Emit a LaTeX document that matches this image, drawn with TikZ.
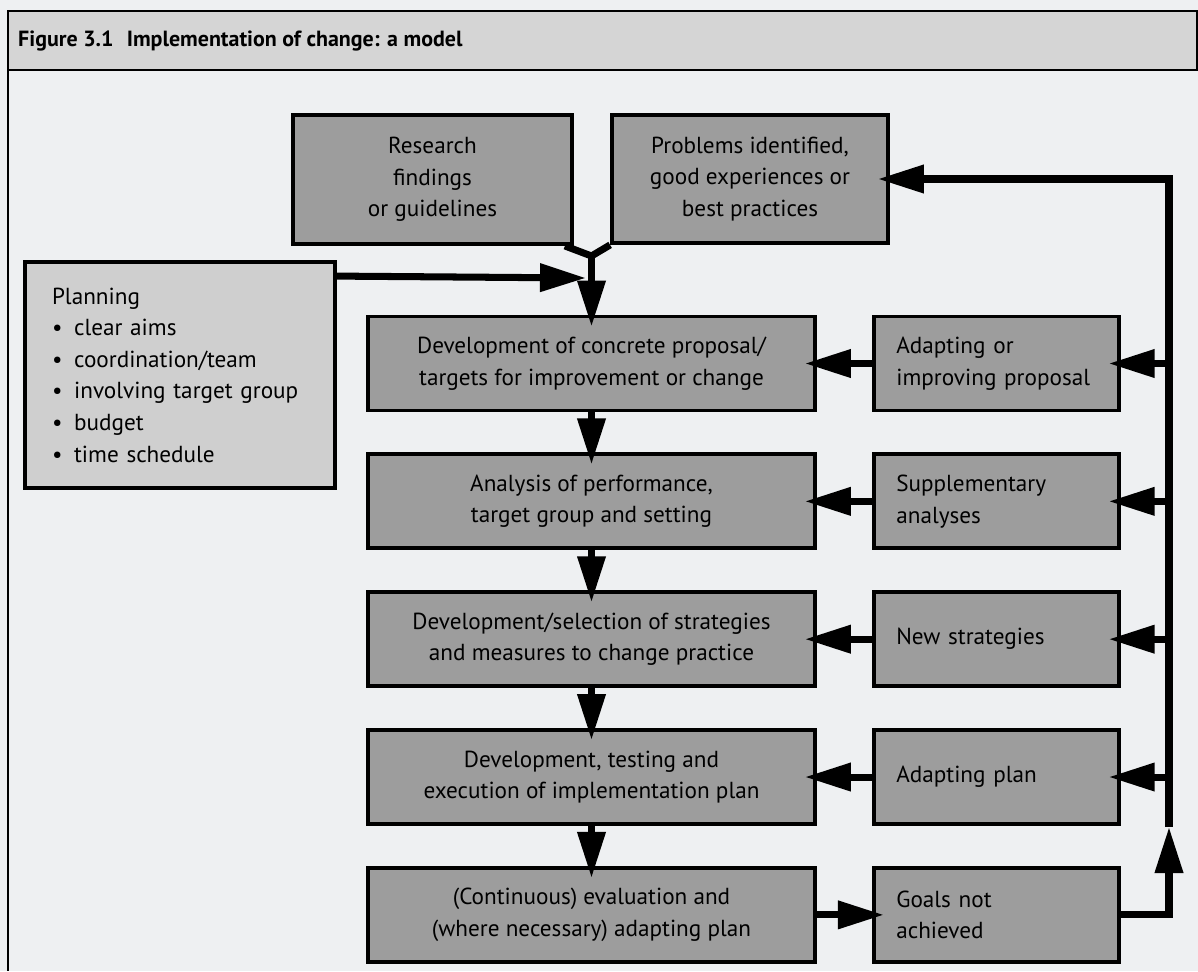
\documentclass[tikz,border=0pt]{standalone}
\usepackage{fontspec}
\setmainfont{PT Sans}
\usetikzlibrary{arrows.meta,positioning}
\definecolor{boxgray}{HTML}{9D9D9D}
\definecolor{plangray}{HTML}{CFCFCF}
\definecolor{titlegray}{HTML}{D5D5D5}
\definecolor{paper}{HTML}{EEF0F2}
\newcommand{\boxfont}{\fontsize{13.2}{18}\selectfont\hyphenpenalty=10000}
\newcommand{\titlefont}{\fontsize{12.5}{16}\selectfont\bfseries}
\tikzset{
  box/.style={draw=black,line width=2.2pt,fill=boxgray,align=center,font=\boxfont,minimum width=8.94cm,minimum height=1.88cm,inner sep=0pt},
  sidebox/.style={draw=black,line width=2.2pt,fill=boxgray,align=left,font=\boxfont,text width=4.0cm,inner xsep=0.45cm,inner ysep=0pt,minimum height=1.88cm},
  topbox/.style={draw=black,line width=2.2pt,fill=boxgray,align=center,font=\boxfont,inner sep=0pt},
  planbox/.style={draw=black,line width=2.2pt,fill=plangray,align=left,font=\boxfont,text width=5.12cm,inner xsep=0.54cm,minimum height=4.52cm},
  arrow/.style={-{Triangle[length=0.92cm,width=0.54cm]},line width=4pt,shorten >=-0.24cm},
  joinarrow/.style={-{Triangle[length=0.92cm,width=0.54cm]},line width=4pt},
  link/.style={line width=4pt}
}

\begin{document}
\begin{tikzpicture}[x=0.02cm,y=-0.02cm,node distance=8mm and 11mm]
  % paper and frame
  \fill[paper] (0,0) rectangle (1198,971);
  \filldraw[fill=titlegray,draw=black,line width=0.9pt] (8,11) rectangle (1197,70);
  \draw[line width=0.9pt] (8,70) -- (8,971);
  \node[anchor=west,font=\titlefont] (title) at (12,41) {Figure 3.1\hspace{0.6em}Implementation of change: a model};

  % inputs
  \node[topbox,minimum width=5.58cm,minimum height=2.58cm] (research) at (432.5,179.5) {Research\\findings\\or guidelines};
  \node[topbox,minimum width=5.52cm,minimum height=2.56cm] (problems) at (750,179) {Problems identified,\\good experiences or\\best practices};
  \node[planbox] (planning) at (180,375) {Planning\\
    \textbullet\hspace{0.5em}clear aims\\
    \textbullet\hspace{0.5em}coordination/team\\
    \textbullet\hspace{0.5em}involving target group\\
    \textbullet\hspace{0.5em}budget\\
    \textbullet\hspace{0.5em}time schedule};

  % main column
  \node[box] (proposal) at (591.5,363.5) {Development of concrete proposal/\\targets for improvement or change};
  \node[box,below=of proposal] (analysis) {Analysis of performance,\\target group and setting};
  \node[box,below=of analysis] (strategies) {Development/selection of strategies\\and measures to change practice};
  \node[box,below=of strategies] (implplan) {Development, testing and\\execution of implementation plan};
  \node[box,below=of implplan] (evaluation) {(Continuous) evaluation and\\(where necessary) adapting plan};

  % side column
  \node[sidebox,right=of proposal] (adapting) {Adapting or\\improving proposal};
  \node[sidebox,right=of analysis] (suppl) {Supplementary\\analyses};
  \node[sidebox,right=of strategies] (newstrat) {New strategies};
  \node[sidebox,right=of implplan] (adaptplan) {Adapting plan};
  \node[sidebox,right=of evaluation] (goals) {Goals not\\achieved};

  \coordinate (merge) at (591.5,256);
  \coordinate (feed) at (586,278);
  \coordinate (loopup) at (1169,827);

  % connectors
  \draw[link] ([xshift=-0.18cm]research.south east) -- (merge) -- (problems.south west);
  \draw[arrow] (merge) -- (proposal);
  \draw[joinarrow] ([yshift=-0.32cm]planning.north east) -- (feed);
  \draw[arrow] (proposal) -- (analysis);
  \draw[arrow] (analysis) -- (strategies);
  \draw[arrow] (strategies) -- (implplan);
  \draw[arrow] (implplan) -- (evaluation);
  \draw[arrow] (evaluation) -- (goals);
  \draw[arrow] (adapting) -- (proposal);
  \draw[arrow] (suppl) -- (analysis);
  \draw[arrow] (newstrat) -- (strategies);
  \draw[arrow] (adaptplan) -- (implplan);
  \draw[joinarrow] (goals.east) -| (loopup);
  \draw[arrow] (loopup) |- (problems.east);
  \foreach \side in {adapting,suppl,newstrat,adaptplan}
    \draw[arrow] (\side.east -| loopup) -- (\side.east);
\end{tikzpicture}
\end{document}
